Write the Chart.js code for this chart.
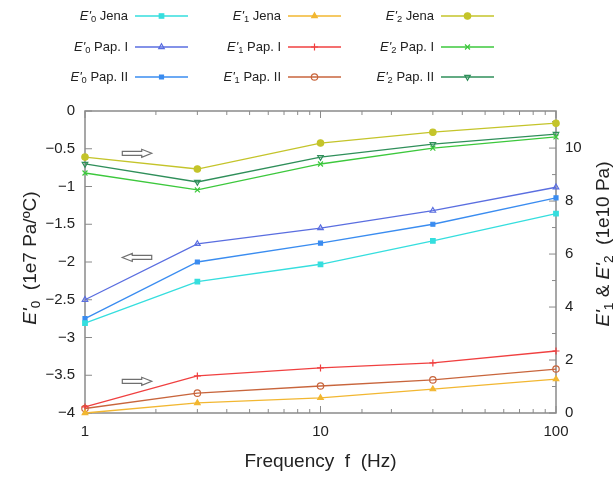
<!DOCTYPE html>
<html>
<head>
<meta charset="utf-8">
<script src="https://cdn.jsdelivr.net/npm/chart.js@4.4.1/dist/chart.umd.min.js"></script>
<style>
  html, body { margin: 0; padding: 0; background: #fff; }
</style>
</head>
<body>
<canvas id="myChart" width="615" height="478"></canvas>
<script>
const freqs = [1, 3, 10, 30, 100];
// E'0 on left axis (1e7 Pa/ºC)
const e0Jena = [-2.81, -2.26, -2.03, -1.72, -1.36];
const e0Pap1 = [-2.5, -1.76, -1.55, -1.32, -1.01];
const e0Pap2 = [-2.75, -2.0, -1.75, -1.5, -1.15];
// E'1 and E'2 on right axis (1e10 Pa)
const e1Jena = [0.0, 0.38, 0.57, 0.9, 1.28];
const e1Pap1 = [0.23, 1.4, 1.7, 1.89, 2.34];
const e1Pap2 = [0.17, 0.75, 1.02, 1.25, 1.66];
const e2Jena = [9.66, 9.21, 10.19, 10.6, 10.94];
const e2Pap1 = [9.06, 8.42, 9.4, 10.0, 10.42];
const e2Pap2 = [9.4, 8.72, 9.66, 10.15, 10.53];
const xTickLabels = [1, 10, 100];
// arrows telling which axis a group belongs to: [tail f, tip f, left-axis value]
const arrows = [
  [1.44, 1.92, -0.56],
  [1.92, 1.44, -1.94],
  [1.44, 1.92, -3.58],
];

const FONT = "'Liberation Sans', Arial, sans-serif";

function pts(vals) {
  return freqs.map((f, i) => ({ x: f, y: vals[i] }));
}

function ds(sub, name, vals, color, axis, style, opts) {
  return Object.assign({
    sub: sub,
    name: name,
    data: pts(vals),
    yAxisID: axis,
    borderColor: color,
    backgroundColor: color,
    pointBackgroundColor: color,
    pointBorderColor: color,
    pointStyle: style,
    pointRadius: 3.2,
    pointBorderWidth: 1.2,
    borderWidth: 1.3,
    tension: 0,
    clip: false,
  }, opts || {});
}

const datasets = [
  ds("0", " Jena", e0Jena, "#35dede", "y", "rect"),
  ds("0", " Pap. I", e0Pap1, "#5a6ee0", "y", "triangle", { pointBackgroundColor: "rgba(255,255,255,0)" }),
  ds("0", " Pap. II", e0Pap2, "#3a8cf0", "y", "rect", { pointRadius: 2.8 }),
  ds("1", " Jena", e1Jena, "#f2b731", "y2", "triangle"),
  ds("1", " Pap. I", e1Pap1, "#f04040", "y2", "cross", { pointRadius: 3.5 }),
  ds("1", " Pap. II", e1Pap2, "#c8653c", "y2", "circle", { pointBackgroundColor: "rgba(255,255,255,0)" }),
  ds("2", " Jena", e2Jena, "#c4c42a", "y2", "circle"),
  ds("2", " Pap. I", e2Pap1, "#3cc83c", "y2", "crossRot", { pointRadius: 3.5 }),
  ds("2", " Pap. II", e2Pap2, "#2f8f5a", "y2", "triangle", { pointRotation: 180, pointBackgroundColor: "rgba(255,255,255,0)" }),
];

// text pieces: {t, it (italic), sub (subscript)}
function richWidth(ctx, parts, size) {
  let w = 0;
  parts.forEach(p => {
    ctx.font = (p.it ? "italic " : "") + (p.sub ? size * 0.72 : size) + "px " + FONT;
    w += ctx.measureText(p.t).width;
  });
  return w;
}
function drawRich(ctx, parts, x, y, size) {
  let cx = x;
  parts.forEach(p => {
    ctx.font = (p.it ? "italic " : "") + (p.sub ? size * 0.72 : size) + "px " + FONT;
    ctx.fillText(p.t, cx, p.sub ? y + size * 0.28 : y);
    cx += ctx.measureText(p.t).width;
  });
}

const framePlugin = {
  id: "frame",
  beforeDatasetsDraw(chart) {
    const { ctx, chartArea: a, scales } = chart;
    ctx.save();
    ctx.strokeStyle = "#8a8a8a";
    ctx.lineWidth = 1.5;
    ctx.strokeRect(a.left, a.top, a.right - a.left, a.bottom - a.top);
    ctx.lineWidth = 1;
    ctx.beginPath();
    scales.x.ticks.forEach(t => {
      const px = scales.x.getPixelForValue(t.value);
      const major = xTickLabels.includes(t.value);
      const len = major ? 7 : 4;
      ctx.moveTo(px, a.bottom); ctx.lineTo(px, a.bottom - len);
      ctx.moveTo(px, a.top); ctx.lineTo(px, a.top + len);
    });
    scales.y.ticks.forEach(t => {
      const py = scales.y.getPixelForValue(t.value);
      ctx.moveTo(a.left, py); ctx.lineTo(a.left + 7, py);
    });
    scales.y2.ticks.forEach(t => {
      const py = scales.y2.getPixelForValue(t.value);
      ctx.moveTo(a.right, py); ctx.lineTo(a.right - 7, py);
      const pm = scales.y2.getPixelForValue(t.value + 1);
      if (pm > a.top) { ctx.moveTo(a.right, pm); ctx.lineTo(a.right - 4, pm); }
    });
    ctx.stroke();

    // axis arrows
    ctx.strokeStyle = "#6f6f6f";
    ctx.fillStyle = "#fff";
    ctx.lineWidth = 1.2;
    arrows.forEach(([f0, f1, v]) => {
      const x0 = scales.x.getPixelForValue(f0);
      const x1 = scales.x.getPixelForValue(f1);
      const y = scales.y.getPixelForValue(v);
      const d = x1 > x0 ? 1 : -1;
      const hx = x1 - d * 10;
      ctx.beginPath();
      ctx.moveTo(x0, y - 2);
      ctx.lineTo(hx, y - 2);
      ctx.lineTo(hx, y - 4);
      ctx.lineTo(x1, y);
      ctx.lineTo(hx, y + 4);
      ctx.lineTo(hx, y + 2);
      ctx.lineTo(x0, y + 2);
      ctx.closePath();
      ctx.fill();
      ctx.stroke();
    });
    ctx.restore();
  },
  afterDraw(chart) {
    const { ctx, chartArea: a } = chart;
    ctx.save();
    ctx.fillStyle = "#222";
    ctx.textBaseline = "middle";

    // x title
    const xt = [{ t: "Frequency  f  (Hz)" }];
    drawRich(ctx, xt, (a.left + a.right) / 2 - richWidth(ctx, xt, 19) / 2, 462, 19);

    // left title (bottom to top)
    const lt = [{ t: "E'", it: true }, { t: "0", sub: true }, { t: "  (1e7 Pa/ºC)" }];
    ctx.save();
    ctx.translate(31, 258);
    ctx.rotate(-Math.PI / 2);
    drawRich(ctx, lt, -richWidth(ctx, lt, 19) / 2, 0, 19);
    ctx.restore();

    // right title (bottom to top)
    const rt = [{ t: "E'", it: true }, { t: "1", sub: true }, { t: " & " },
                { t: "E'", it: true }, { t: "2", sub: true }, { t: "  (1e10 Pa)" }];
    ctx.save();
    ctx.translate(604, 244);
    ctx.rotate(-Math.PI / 2);
    drawRich(ctx, rt, -richWidth(ctx, rt, 19) / 2, 0, 19);
    ctx.restore();

    // legend 3 x 3
    const colText = [128, 281, 434];
    const rowY = [16, 47, 77];
    chart.data.datasets.forEach((d, i) => {
      const col = Math.floor(i / 3), row = i % 3;
      const y = rowY[row];
      const parts = [{ t: "E'", it: true }, { t: d.sub, sub: true }, { t: d.name }];
      ctx.fillStyle = "#222";
      drawRich(ctx, parts, colText[col] - richWidth(ctx, parts, 13), y, 13);
      const lx0 = colText[col] + 7, lx1 = lx0 + 53;
      ctx.strokeStyle = d.borderColor;
      ctx.lineWidth = d.borderWidth;
      ctx.beginPath(); ctx.moveTo(lx0, y); ctx.lineTo(lx1, y); ctx.stroke();
      ctx.fillStyle = d.pointBackgroundColor;
      ctx.strokeStyle = d.pointBorderColor;
      ctx.lineWidth = d.pointBorderWidth;
      Chart.helpers.drawPoint(ctx, {
        pointStyle: d.pointStyle, rotation: d.pointRotation || 0,
        radius: d.pointRadius, borderWidth: d.pointBorderWidth,
      }, (lx0 + lx1) / 2, y);
    });
    ctx.restore();
  },
};

const tickFont = { family: FONT, size: 15 };

const myChart = new Chart(document.getElementById("myChart"), {
  type: "line",
  data: { datasets: datasets },
  options: {
    responsive: false,
    animation: false,
    layout: { padding: { top: 111, left: 0, right: 0, bottom: 0 } },
    plugins: { legend: { display: false }, tooltip: { enabled: false } },
    scales: {
      x: {
        type: "logarithmic",
        min: 1,
        max: 100,
        grid: { display: false },
        border: { display: false },
        ticks: {
          autoSkip: false,
          maxRotation: 0,
          padding: 2,
          color: "#222",
          font: tickFont,
          callback: v => (xTickLabels.includes(v) ? String(v) : ""),
        },
        afterFit(s) { s.height = 65; },
      },
      y: {
        position: "left",
        min: -4,
        max: 0,
        grid: { display: false },
        border: { display: false },
        ticks: {
          stepSize: 0.5,
          padding: 2,
          color: "#222",
          font: tickFont,
          callback: v => (v === 0 ? "0" : "\u2212" + Math.abs(v)),
        },
        afterFit(s) { s.width = 85; },
      },
      y2: {
        position: "right",
        min: 0,
        max: 11.4,
        grid: { display: false },
        border: { display: false },
        ticks: {
          stepSize: 2,
          includeBounds: false,
          padding: 1,
          color: "#222",
          font: tickFont,
        },
        afterFit(s) { s.width = 59; },
      },
    },
  },
  plugins: [framePlugin],
});
</script>
</body>
</html>
